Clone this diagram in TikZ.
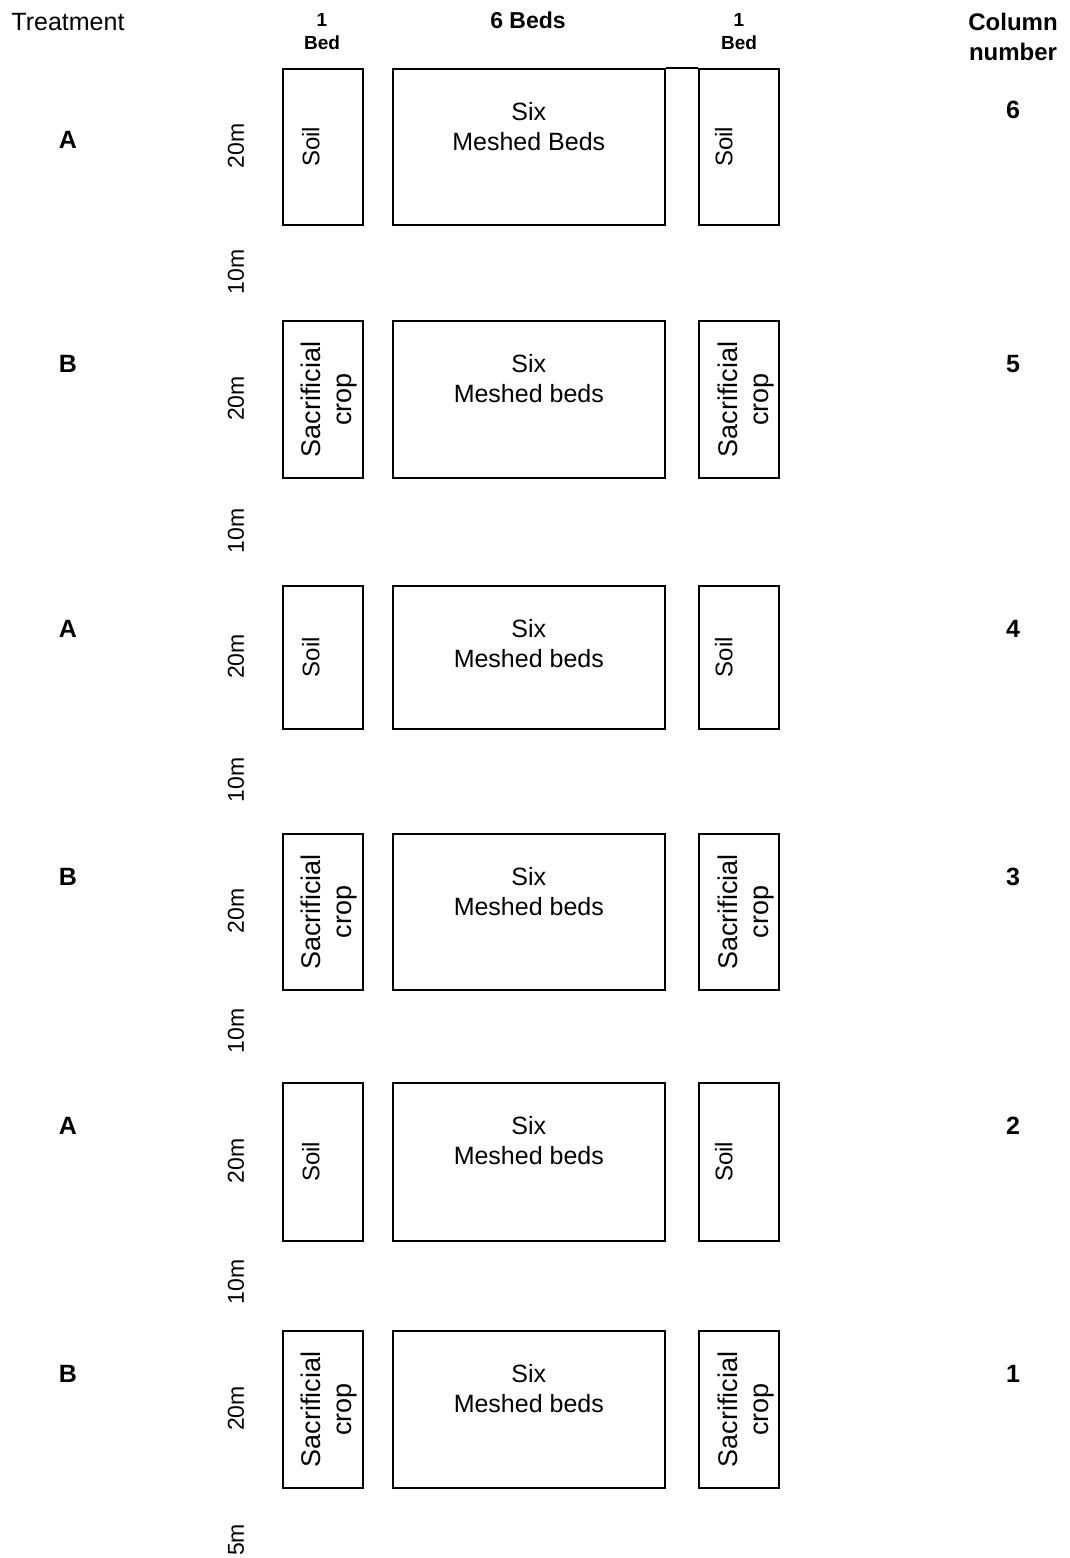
\documentclass[tikz,border=0pt]{standalone}
\usepackage{fontspec}
\setmainfont{Liberation Sans}
\usetikzlibrary{positioning}
\tikzset{
  bedbox/.style={draw, line width=1.6pt, inner sep=0pt, minimum width=80pt},
  meshbox/.style={draw, line width=1.6pt, inner sep=0pt, minimum width=272pt},
  soiltext/.style={rotate=90, inner sep=0pt, font=\fontsize{24}{29}\selectfont},
  croptext/.style={rotate=90, align=center, inner sep=0pt,
                   font=\fontsize{27}{31}\selectfont},
  meshtext/.style={align=center, inner sep=0pt, anchor=north,
                   font=\fontsize{25}{30}\selectfont},
  dim/.style={rotate=90, inner sep=0pt, font=\fontsize{23}{27}\selectfont},
  treat/.style={inner sep=0pt, font=\fontsize{25}{29}\selectfont\bfseries},
  colnum/.style={inner sep=0pt, font=\fontsize{25}{29}\selectfont\bfseries},
  head/.style={inner sep=0pt, align=center, font=\fontsize{24}{30}\selectfont\bfseries},
  smallhead/.style={inner sep=0pt, align=center, font=\fontsize{19}{23}\selectfont\bfseries},
}

\begin{document}
\begin{tikzpicture}[x=1pt, y=-1pt]
  \useasboundingbox (0,0) rectangle (1069,1558);

  % column headings
  \node[inner sep=0pt, font=\fontsize{25}{30}\selectfont] (treathead) at (68,22) {Treatment};
  \node[smallhead] (leftbed)  at (322,32) {1\\Bed};
  \node[head, font=\fontsize{23}{27}\selectfont\bfseries] (sixbeds) at (528,20) {6 Beds};
  \node[smallhead] (rightbed) at (739,32) {1\\Bed};
  \node[head] (colhead) at (1013,37) {Column\\number};

  % one row of beds per column number
  \foreach \n/\t/\tl/\cl/\top/\h/\kind/\side/\ls/\rs/\mid in {
      6/A/140/110/68/156/soiltext/Soil/-12/-15/{Meshed Beds},
      5/B/364/364/320/157/croptext/{Sacrificial\\crop}/6/7/{Meshed beds},
      4/A/629/629/585/143/soiltext/Soil/-12/-15/{Meshed beds},
      3/B/877/877/833/156/croptext/{Sacrificial\\crop}/6/7/{Meshed beds},
      2/A/1126/1126/1082/158/soiltext/Soil/-12/-15/{Meshed beds},
      1/B/1374/1374/1330/157/croptext/{Sacrificial\\crop}/6/7/{Meshed beds}}
  {
    \node[treat] (tr\n) at (68,\tl) {\t};
    \node[bedbox, minimum height=\h pt, anchor=north west] (L\n) at (282,\top) {};
    \node[meshbox, minimum height=\h pt, anchor=north west] (M\n) at (392,\top) {};
    \node[bedbox, minimum height=\h pt, anchor=north west] (R\n) at (698,\top) {};
    \node[\kind, yshift=-\ls pt] (Lt\n) at (L\n.center) {\side};
    \node[\kind, yshift=-\rs pt] (Rt\n) at (R\n.center) {\side};
    \node[meshtext, below=34pt of M\n.north] (Mt\n) {Six\\\mid};
    \node[dim] (len\n) at (236,\top+\h/2) {20m};
    \node[colnum] (num\n) at (1013,\cl) {\n};
  }
  \draw[line width=1.6pt] (M6.north east) -- (R6.north west);

  % gaps between the rows
  \foreach \g/\y in {a/272, b/531, c/780, d/1031, e/1282}
    \node[dim] (gap\g) at (236,\y) {10m};
  \node[dim] (gapend) at (236,1540) {5m};
\end{tikzpicture}
\end{document}
